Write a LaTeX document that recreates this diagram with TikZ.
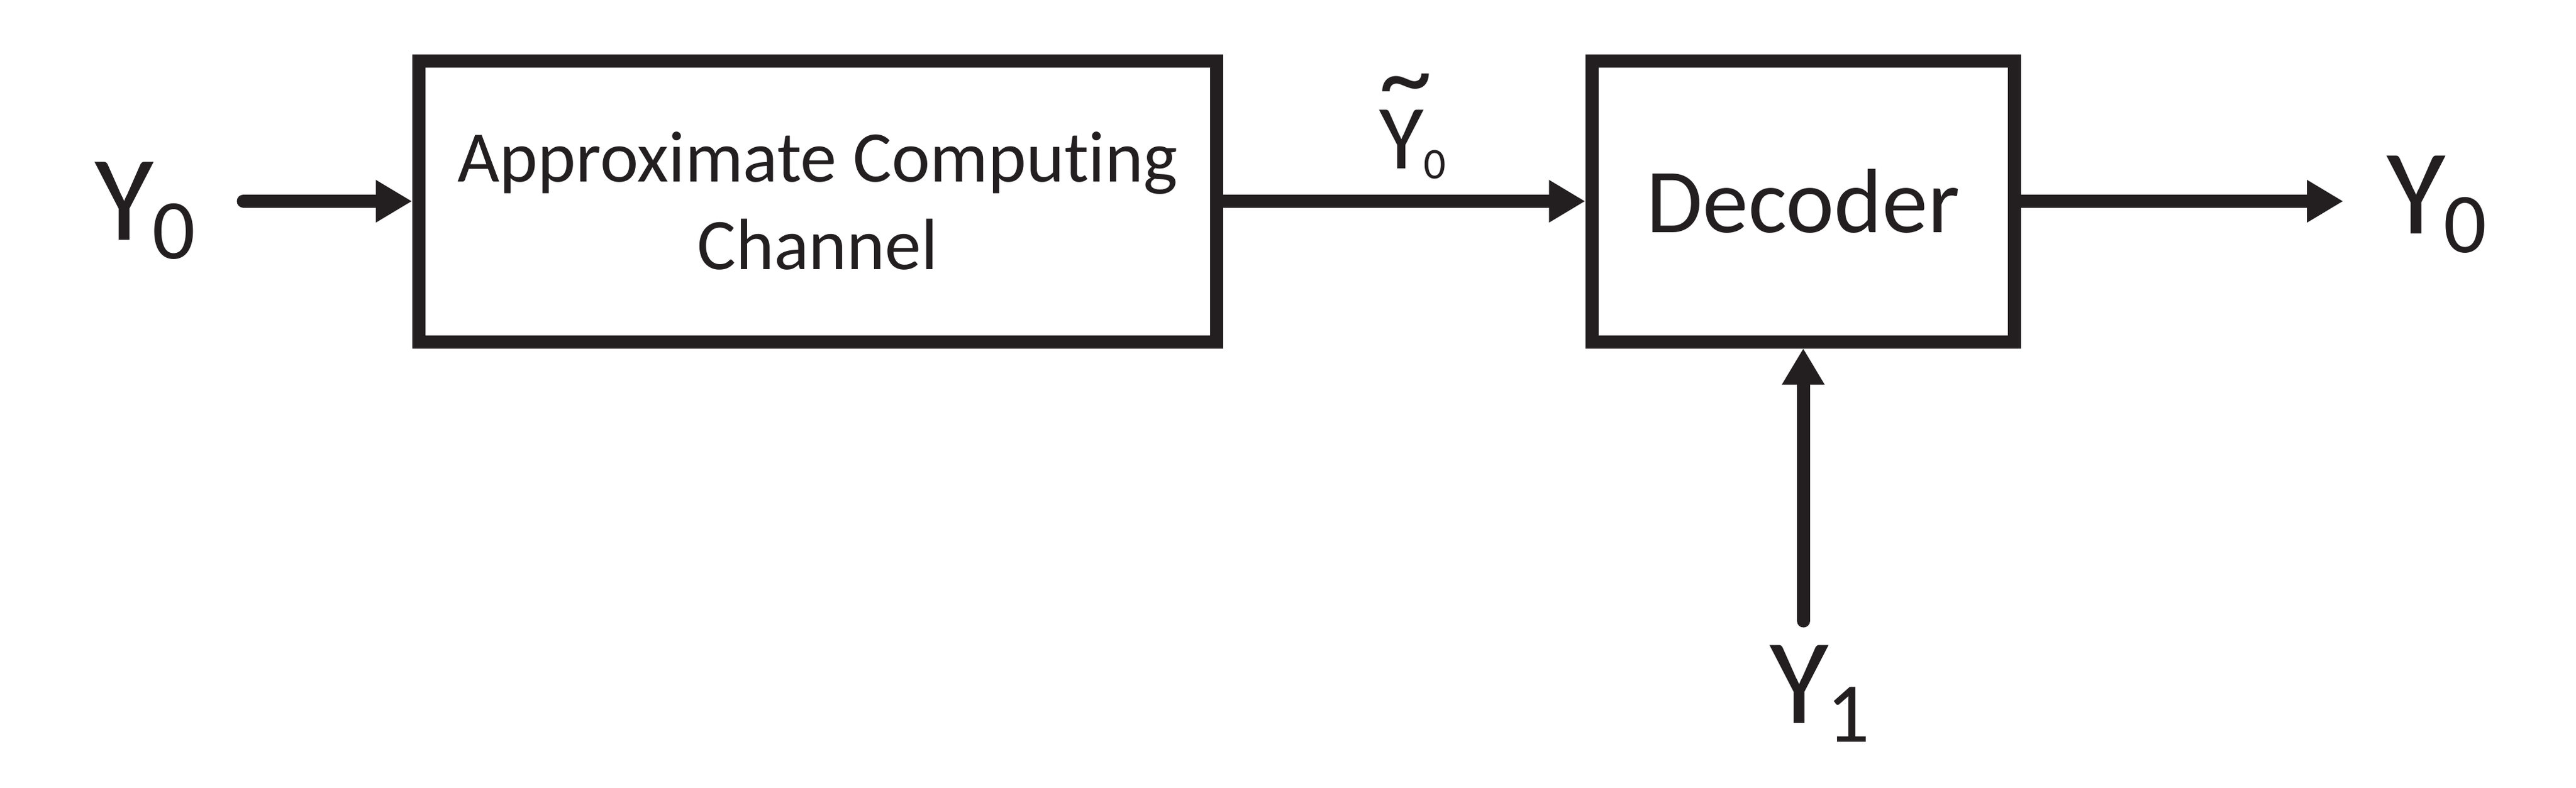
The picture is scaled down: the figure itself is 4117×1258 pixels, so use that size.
\documentclass[tikz,border=0pt]{standalone}
\usepackage{fontspec}
\setmainfont{Carlito}[RawFeature=-liga]
\usetikzlibrary{arrows.meta}
\definecolor{ink}{RGB}{35,31,32}
\newcommand{\ylab}[1]{{\fontsize{19.4}{19.4}\selectfont Y}\kern-0.3pt{\fontsize{13.6}{13.6}\selectfont\raisebox{-3pt}{#1}}}
\begin{document}
\begin{tikzpicture}[x=0.1pt,y=-0.1pt,
  blk/.style={draw=ink,line width=2.1pt,inner sep=0pt,text=ink},
  conn/.style={draw=ink,line width=2.1pt,-{Triangle[length=5.8pt,width=6.4pt]}},
  lbl/.style={inner sep=0pt,anchor=base west,text=ink}]
\useasboundingbox (0,0) rectangle (4117,1258);
\node[blk,minimum width=127.6pt,minimum height=44.9pt,align=center,
  font=\fontsize{11.6}{14}\selectfont] (acc) at (1307,321.5) {Approximate Computing\\Channel};
\node[blk,minimum width=67.6pt,minimum height=44.9pt,
  font=\fontsize{14.6}{14.6}\selectfont] (dec) at (2882,321.5) {Decoder};
\node[lbl] (yin) at (150,383) {\ylab{0}};
\node[lbl] (yout) at (3812,373) {\ylab{0}};
\node[lbl] (yone) at (2826,1155) {\ylab{1}};
\node[lbl] (ytil) at (2202,269) {\rlap{\raisebox{9pt}{\fontsize{17}{17}\selectfont\textasciitilde}}{\fontsize{14.6}{14.6}\selectfont Y}{\fontsize{7}{7}\selectfont\raisebox{-1.6pt}{0}}};
\coordinate (in) at (389,321.5);
\coordinate (out) at (3745,321.5);
\coordinate (side) at (2882,992);
\draw[conn,line cap=round] (in) -- (acc.west);
\draw[conn] (acc.east) -- (dec.west);
\draw[conn] (dec.east) -- (out);
\draw[conn,line cap=round] (side) -- (dec.south);
\end{tikzpicture}
\end{document}
